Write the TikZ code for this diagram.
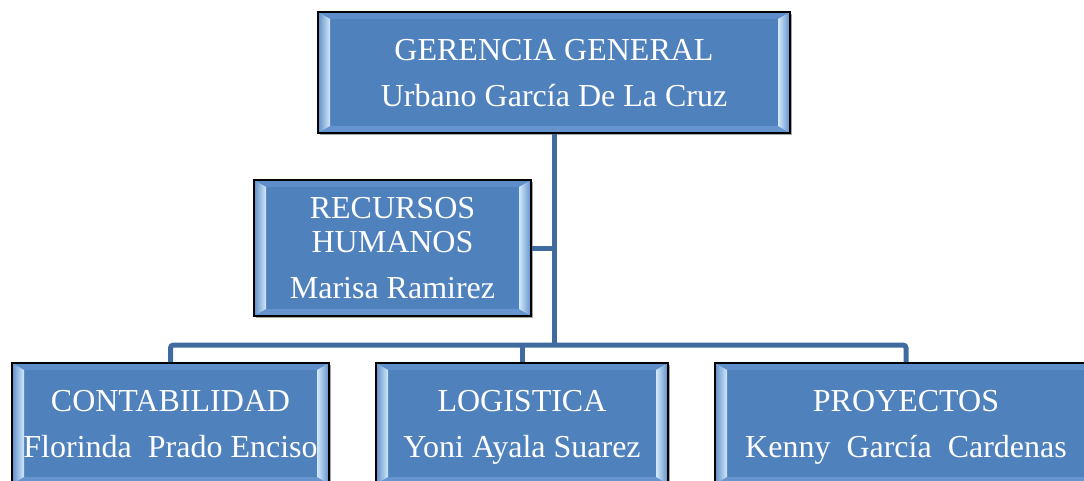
\documentclass[tikz,border=0pt]{standalone}
\usepackage{fontspec}
\setmainfont{Liberation Serif}
\usetikzlibrary{shadows}
\definecolor{boxblue}{HTML}{4F81BD}
\definecolor{linkblue}{HTML}{3F6B9E}
\definecolor{bevlight}{HTML}{D2E9FB}
\definecolor{bevmid}{HTML}{5F8FCA}
\definecolor{bevtop}{HTML}{5E8ECA}
\definecolor{bevbot}{HTML}{6594CE}
\tikzset{
  orgbox/.style={draw=black, line width=1.6pt, fill=boxblue, text=white,
    align=center, inner sep=0pt, text depth=0pt,
    font=\fontsize{32}{34}\selectfont,
    drop shadow={shadow xshift=2pt, shadow yshift=-2pt, opacity=0.35, fill=black},
    path picture={
      \coordinate (bnw) at (path picture bounding box.north west);
      \coordinate (bne) at (path picture bounding box.north east);
      \coordinate (bsw) at (path picture bounding box.south west);
      \coordinate (bse) at (path picture bounding box.south east);
      \fill[bevtop] (bnw) -- (bne) -- ([xshift=-12pt,yshift=-7pt]bne) -- ([xshift=12pt,yshift=-7pt]bnw) -- cycle;
      \fill[bevbot] (bsw) -- (bse) -- ([xshift=-12pt,yshift=7pt]bse) -- ([xshift=12pt,yshift=7pt]bsw) -- cycle;
      \shade[left color=bevmid, right color=bevlight] (bnw) -- ([xshift=12pt,yshift=-7pt]bnw) -- ([xshift=12pt,yshift=7pt]bsw) -- (bsw) -- cycle;
      \shade[left color=bevlight, right color=bevmid] (bne) -- ([xshift=-12pt,yshift=-7pt]bne) -- ([xshift=-12pt,yshift=7pt]bse) -- (bse) -- cycle;
    }},
  link/.style={draw=linkblue, line width=5pt, rounded corners=3pt}
}
\begin{document}
\begin{tikzpicture}[x=1pt,y=1pt]
\useasboundingbox (0,0) rectangle (1084,-481);
\clip (0,0) rectangle (1084,-481);
\coordinate (busy) at (0,-345);
\node[orgbox, minimum width=472pt, minimum height=121pt] (gg) at (554,-72.5)
  {GERENCIA GENERAL\\[12pt]Urbano García De La Cruz};
\node[orgbox, minimum width=277pt, minimum height=136pt] (rh) at (392.5,-248)
  {RECURSOS\\HUMANOS\\[12pt]Marisa Ramirez};
\node[orgbox, minimum width=317pt, minimum height=121pt] (cont) at (170.5,-423.5)
  {CONTABILIDAD\\[12pt]Florinda\ \ Prado Enciso};
\node[orgbox, minimum width=292pt, minimum height=121pt] (log) at (522,-423.5)
  {LOGISTICA\\[12pt]Yoni Ayala Suarez};
\node[orgbox, minimum width=382pt, minimum height=121pt] (proy) at (906,-423.5)
  {PROYECTOS\\[12pt]Kenny\ \ García\ \ Cardenas};
\draw[link] (gg.south) -- (gg.south |- busy);
\draw[link] (cont.north) -- (cont.north |- busy) -- (proy.north |- busy) -- (proy.north);
\draw[link] (log.north) -- (log.north |- busy);
\draw[link] (rh.east) -- (rh.east -| gg.south);
\end{tikzpicture}
\end{document}
